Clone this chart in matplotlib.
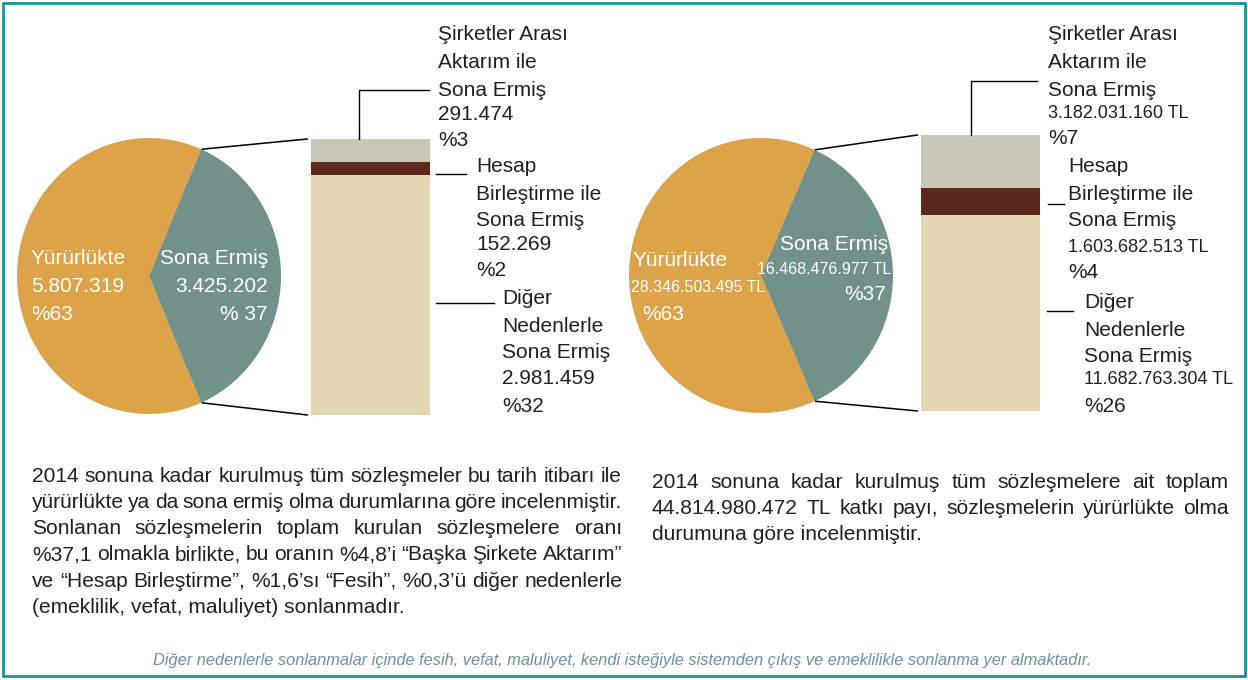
import numpy as np
import matplotlib

matplotlib.use("Agg")
import matplotlib.pyplot as plt
from matplotlib.patches import ConnectionPatch, Rectangle

plt.rcParams["font.family"] = ["Liberation Sans", "DejaVu Sans"]

# --- data -------------------------------------------------------------
status = ["Yürürlükte", "Sona Ermiş"]
count_status = [5807319, 3425202]
amount_status = [28346503495, 16468476977]
count_status_pct = ["%63", "% 37"]
amount_status_pct = ["%63", "%37"]

reasons = [
    ["Şirketler Arası", "Aktarım ile", "Sona Ermiş"],
    ["Hesap", "Birleştirme ile", "Sona Ermiş"],
    ["Diğer", "Nedenlerle", "Sona Ermiş"],
]
count_reason = [291474, 152269, 2981459]
amount_reason = [3182031160, 1603682513, 11682763304]
count_reason_pct = ["%3", "%2", "%32"]
amount_reason_pct = ["%7", "%4", "%26"]

left_text = [
    "2014 sonuna kadar kurulmuş tüm sözleşmeler bu tarih itibarı ile",
    "yürürlükte ya da sona ermiş olma durumlarına göre incelenmiştir.",
    "Sonlanan sözleşmelerin toplam kurulan sözleşmelere oranı",
    "%37,1 olmakla birlikte, bu oranın %4,8’i “Başka Şirkete Aktarım”",
    "ve “Hesap Birleştirme”, %1,6’sı “Fesih”, %0,3’ü diğer nedenlerle",
    "(emeklilik, vefat, maluliyet) sonlanmadır.",
]
right_text = [
    "2014 sonuna kadar kurulmuş tüm sözleşmelere ait toplam",
    "44.814.980.472 TL katkı payı, sözleşmelerin yürürlükte olma",
    "durumuna göre incelenmiştir.",
]
footnote = ("Diğer nedenlerle sonlanmalar içinde fesih, vefat, maluliyet, kendi "
            "isteğiyle sistemden çıkış ve emeklilikle sonlanma yer almaktadır.")

PIE_COLORS = ["#DCA348", "#71918A"]
BAR_COLORS = ["#C9C8B6", "#5E291D", "#E2D7B2"]
INK = "#231F20"
W, H = 1248, 680


def tr(v, unit=""):
    return f"{v:,}".replace(",", ".") + unit


fig = plt.figure(figsize=(W / 100, H / 100), dpi=100)


def box(x0, y0, x1, y1):
    return [x0 / W, 1 - y1 / H, (x1 - x0) / W, (y1 - y0) / H]


def draw_pie(rect, values):
    ax = fig.add_axes(rect)
    start = 180 * values[1] / sum(values)
    ax.pie(values, colors=PIE_COLORS, startangle=start, radius=1,
           wedgeprops=dict(linewidth=0))
    ax.set_aspect("auto")
    ax.set_xlim(-1, 1)
    ax.set_ylim(-1, 1)
    ax.axis("off")
    return ax, start


def draw_bar(rect, values):
    ax = fig.add_axes(rect)
    bottom = 0
    for v, c in zip(values[::-1], BAR_COLORS[::-1]):
        ax.bar(0, v, bottom=bottom, width=1, color=c, linewidth=0)
        bottom += v
    ax.set_xlim(-0.5, 0.5)
    ax.set_ylim(0, sum(values))
    ax.axis("off")
    return ax


def connect(pie_ax, start, bar_ax, total):
    t = np.radians(start)
    for sign, yb in ((1, total), (-1, 0)):
        con = ConnectionPatch(xyA=(np.cos(t) * 1.02, sign * np.sin(t)), coordsA=pie_ax.transData,
                              xyB=(-0.53, yb), coordsB=bar_ax.transData,
                              color="black", lw=1.1)
        fig.add_artist(con)


pie_l, st_l = draw_pie(box(17, 138, 281, 414), count_status)
bar_l = draw_bar(box(311, 139, 430, 415), count_reason)
connect(pie_l, st_l, bar_l, sum(count_reason))

pie_r, st_r = draw_pie(box(629, 138, 893, 413), amount_status)
bar_r = draw_bar(box(921, 135, 1040, 411), amount_reason)
connect(pie_r, st_r, bar_r, sum(amount_reason))

ov = fig.add_axes([0, 0, 1, 1])
ov.set_xlim(0, W)
ov.set_ylim(H, 0)
ov.axis("off")

ov.add_patch(Rectangle((3, 3), W - 6, H - 7, fill=False, edgecolor="#1A9196", lw=2))


def block(x, ys, lines, sizes, ha="left", color=INK):
    for y, s, fs in zip(ys, lines, sizes):
        ov.text(x, y, s, ha=ha, va="center", fontsize=fs, color=color)


# pie labels
block(31, [259, 287, 315], [status[0], tr(count_status[0]), count_status_pct[0]], [15] * 3, color="white")
block(268, [259, 287, 315], [status[1], tr(count_status[1]), count_status_pct[1]], [15] * 3, ha="right", color="white")
ov.text(633, 261, status[0], va="center", fontsize=15, color="white")
ov.text(631, 288, tr(amount_status[0], " TL"), va="center", fontsize=11.5, color="white")
ov.text(642, 315, amount_status_pct[0], va="center", fontsize=15, color="white")
ov.text(888, 245, status[1], ha="right", va="center", fontsize=15, color="white")
ov.text(891, 270, tr(amount_status[1], " TL"), ha="right", va="center", fontsize=11.5, color="white")
ov.text(886, 295, amount_status_pct[1], ha="right", va="center", fontsize=15, color="white")

# bar labels
lx = [438, 476, 502]
lys = [[35, 63, 90, 115, 140], [167, 194, 221, 244, 270], [298, 326, 353, 379, 406]]
for i in range(3):
    block(lx[i], lys[i], reasons[i] + [tr(count_reason[i]), count_reason_pct[i]], [15] * 5)
rx = [1048, 1068, 1084]
rys = [[35, 63, 90, 114, 139], [167, 194, 221, 248, 273], [303, 330, 356, 380, 407]]
for i in range(3):
    block(rx[i], rys[i], reasons[i] + [tr(amount_reason[i], " TL"), amount_reason_pct[i]],
          [15, 15, 15, 13, 15])

# leader lines
lk = dict(color="black", lw=1)
ov.plot([359, 359, 429], [139, 90, 90], **lk)
ov.plot([436, 466], [174, 174], **lk)
ov.plot([436, 494], [303, 303], **lk)
ov.plot([971, 971, 1037], [135, 81, 81], **lk)
ov.plot([1048, 1064], [204, 204], **lk)
ov.plot([1047, 1073], [311, 311], **lk)

renderer = fig.canvas.get_renderer()


def justified(lines, x0, x1, y0, step, fs):
    for i, line in enumerate(lines):
        y = y0 + i * step
        words = line.split(" ")
        if i == len(lines) - 1:
            ov.text(x0, y, line, va="center", fontsize=fs, color=INK)
            continue
        arts = [ov.text(0, y, w, va="center", fontsize=fs, color=INK) for w in words]
        widths = [a.get_window_extent(renderer).width for a in arts]
        gap = (x1 - x0 - sum(widths)) / (len(words) - 1)
        x = x0
        for a, w in zip(arts, widths):
            a.set_x(x)
            x += w + gap


justified(left_text, 32, 622, 476, 26.3, 15.1)
justified(right_text, 652, 1229, 482, 26.5, 15.1)

ov.text(622, 660, footnote, ha="center", va="center", fontsize=11.8,
        style="italic", color="#6F8FA6")

fig.savefig("out.png", dpi=100)
